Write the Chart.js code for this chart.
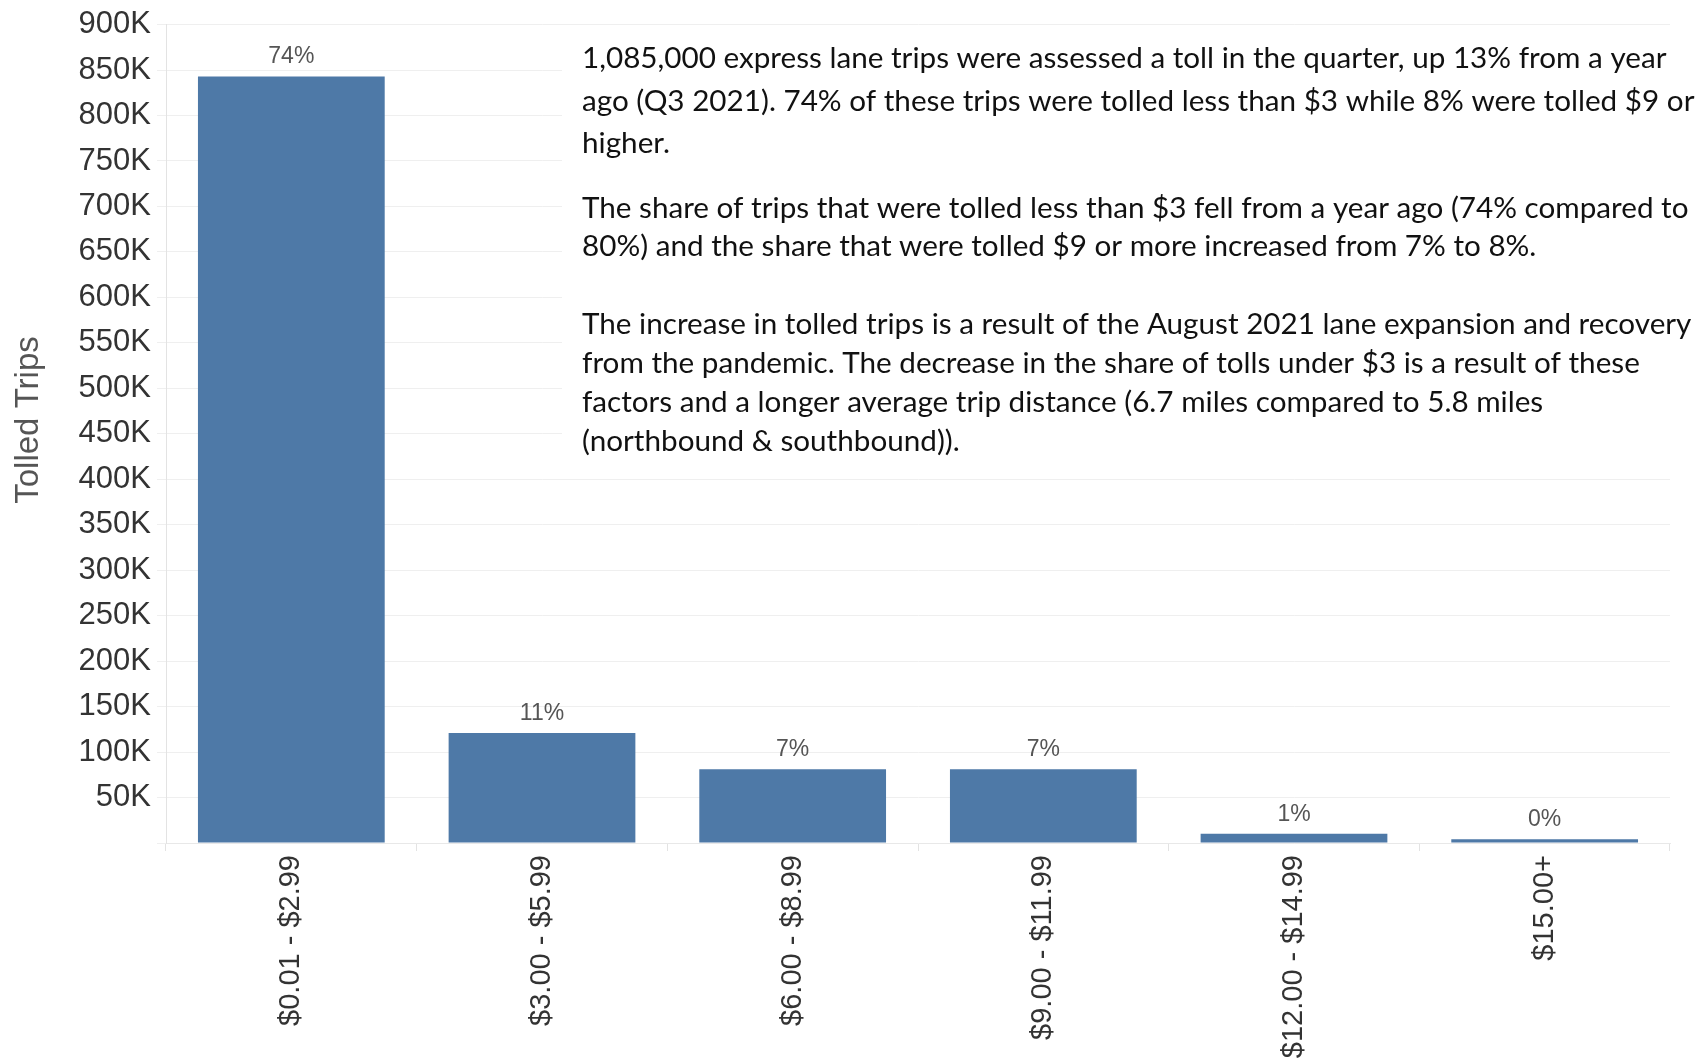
<!DOCTYPE html>
<html>
<head>
<meta charset="utf-8">
<title>Tolled Trips by Toll Amount</title>
<script src="https://cdn.jsdelivr.net/npm/chart.js@4.4.0/dist/chart.umd.min.js"></script>
<style>
  html, body { margin: 0; padding: 0; background: #fff; }
  #wrap { position: relative; width: 1705px; height: 1062px; }
</style>
</head>
<body>
<div id="wrap"><canvas id="tolls-chart"></canvas></div>
<script>
// tolled express lane trips per toll range
const tollRanges = ['$0.01 - $2.99', '$3.00 - $5.99', '$6.00 - $8.99', '$9.00 - $11.99', '$12.00 - $14.99', '$15.00+'];
const tolledTrips = [843000, 121000, 81000, 81000, 10300, 4000];
const totalTrips = tolledTrips.reduce((a, b) => a + b, 0);

// y axis runs 0 - 900K in 50K steps
const yMax = 900000;
const yStep = 50000;

// text block on the right, one array per paragraph (one entry per line)
const notePara1 = [
  '1,085,000 express lane trips were assessed a toll in the quarter, up 13% from a year',
  'ago (Q3 2021). 74% of these trips were tolled less than $3 while 8% were tolled $9 or',
  'higher.'
];
const notePara2 = [
  'The share of trips that were tolled less than $3 fell from a year ago (74% compared to',
  '80%) and the share that were tolled $9 or more increased from 7% to 8%.'
];
const notePara3 = [
  'The increase in tolled trips is a result of the August 2021 lane expansion and recovery',
  'from the pandemic. The decrease in the share of tolls under $3 is a result of these',
  'factors and a longer average trip distance (6.7 miles compared to 5.8 miles',
  '(northbound & southbound)).'
];

const AXIS_FONT = '"Liberation Sans", Arial, sans-serif';

// percentage of all tolled trips above each bar
const shareLabels = {
  id: 'shareLabels',
  afterDatasetsDraw(chart) {
    const ctx = chart.ctx;
    const meta = chart.getDatasetMeta(0);
    ctx.save();
    ctx.font = '23px ' + AXIS_FONT;
    ctx.fillStyle = '#555';
    ctx.textAlign = 'center';
    ctx.textBaseline = 'alphabetic';
    meta.data.forEach((bar, i) => {
      const pct = Math.round(tolledTrips[i] / totalTrips * 100) + '%';
      ctx.fillText(pct, bar.x, bar.y - 13);
    });
    ctx.restore();
  }
};

// rotated y axis title, sitting a little above the middle of the axis
const axisTitle = {
  id: 'axisTitle',
  afterDraw(chart) {
    const ctx = chart.ctx;
    ctx.save();
    ctx.translate(29, 420);
    ctx.rotate(-Math.PI / 2);
    ctx.font = '33px ' + AXIS_FONT;
    ctx.fillStyle = '#555';
    ctx.textAlign = 'center';
    ctx.textBaseline = 'middle';
    ctx.fillText('Tolled Trips', 0, 0);
    ctx.restore();
  }
};

// white panel with the commentary text over the upper right of the plot
const notePanel = {
  id: 'notePanel',
  afterDraw(chart) {
    const ctx = chart.ctx;
    const left = 562, top = 30, textX = 582, firstLineWidth = 1085;
    ctx.save();
    ctx.fillStyle = '#fff';
    ctx.fillRect(left, top, chart.width - left, 435);

    // size the font so the first line fills the panel width
    ctx.font = '28px Lato';
    const size = 28 * firstLineWidth / ctx.measureText(notePara1[0]).width;
    ctx.font = size.toFixed(2) + 'px Lato';
    ctx.fillStyle = '#111';
    ctx.textAlign = 'left';
    ctx.textBaseline = 'alphabetic';

    // [lines, first baseline, line spacing]
    [[notePara1, 68, 42.5], [notePara2, 218, 38], [notePara3, 334, 39]].forEach(([lines, y0, lh]) => {
      lines.forEach((line, i) => ctx.fillText(line, textX, y0 + i * lh));
    });
    ctx.restore();
  }
};

new Chart(document.getElementById('tolls-chart'), {
  type: 'bar',
  data: {
    labels: tollRanges,
    datasets: [{
      label: 'Tolled Trips',
      data: tolledTrips,
      backgroundColor: '#4e79a7',
      categoryPercentage: 1.0,
      barPercentage: 0.745
    }]
  },
  options: {
    responsive: true,
    maintainAspectRatio: false,
    animation: false,
    layout: { padding: { top: 19.5, right: 35, left: 0, bottom: 0 } },
    plugins: {
      legend: { display: false },
      tooltip: { enabled: false }
    },
    scales: {
      x: {
        afterFit: (scale) => { scale.height = 219; },
        grid: {
          offset: true,
          drawOnChartArea: false,
          drawTicks: true,
          tickLength: 8,
          color: '#e3e3e3'
        },
        border: { display: true, color: '#e8e8e8' },
        ticks: {
          autoSkip: false,
          maxRotation: 90,
          minRotation: 90,
          padding: 4,
          color: '#333',
          font: { family: AXIS_FONT, size: 29 }
        }
      },
      y: {
        min: 0,
        max: yMax,
        afterFit: (scale) => { scale.width = 166; },
        grid: { color: '#efefef', tickLength: 9 },
        border: { display: true, color: '#e3e3e3' },
        ticks: {
          stepSize: yStep,
          padding: 6,
          color: '#333',
          font: { family: AXIS_FONT, size: 31 },
          callback: (v) => v === 0 ? '' : (v / 1000) + 'K'
        }
      }
    }
  },
  plugins: [shareLabels, axisTitle, notePanel]
});
</script>
</body>
</html>
